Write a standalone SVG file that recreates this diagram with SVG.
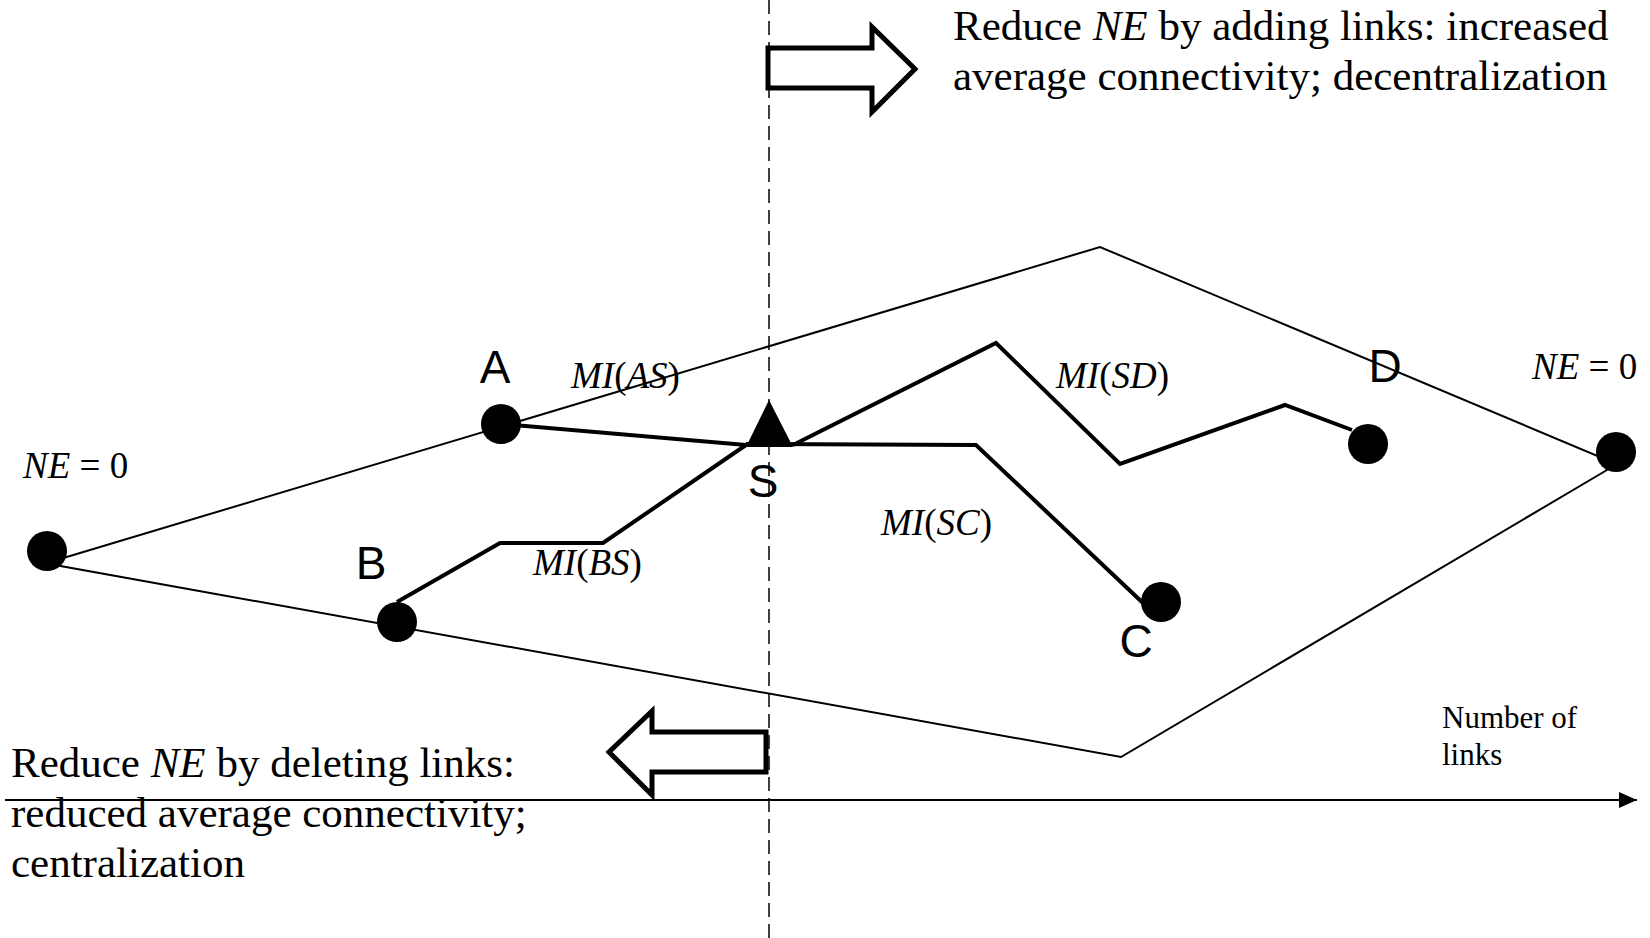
<svg xmlns="http://www.w3.org/2000/svg" width="1650" height="938" viewBox="0 0 1650 938">
<style>
.thin{fill:none;stroke:#000;stroke-width:2}
.thick{fill:none;stroke:#000;stroke-width:4;stroke-linejoin:miter}
.blk{fill:none;stroke:#000;stroke-width:5;stroke-linejoin:miter}
.node{fill:#000}
.lbl{font-family:"Liberation Sans",Arial,sans-serif;font-size:46px;text-anchor:middle;fill:#000}
.mi{font-family:"Liberation Serif","Times New Roman",serif;font-size:37px;fill:#000}
.txt{font-family:"Liberation Serif","Times New Roman",serif;font-size:43px;fill:#000}
.small{font-family:"Liberation Serif","Times New Roman",serif;font-size:31px;fill:#000}
.it{font-style:italic}
</style>
<defs>
<marker id="ah" markerWidth="18" markerHeight="16" refX="18" refY="8" orient="auto" markerUnits="userSpaceOnUse">
<path d="M0,0 L18,8 L0,16 Z" fill="#000"/>
</marker>
</defs>
<rect width="1650" height="938" fill="#fff"/>
<g id="axis">
<line x1="5" y1="800" x2="1637" y2="800" stroke="#000" stroke-width="2" marker-end="url(#ah)"/>
<text class="small" x="1442" y="728">Number of</text>
<text class="small" x="1442" y="765">links</text>
</g>
<g id="divider">
<line x1="769" y1="0" x2="769" y2="938" stroke="#000" stroke-width="1.5" stroke-dasharray="14 7"/>
</g>
<g id="connectors">
<polygon class="thin" points="60,559 1100,247 1600,457 1607,470 1121,757 55,565"/>
<polyline class="thick" points="501,424 746,445"/>
<polyline class="thick" points="397,602 500,543 603,543 746,445"/>
<polyline class="thick" points="746,444 976,445 1143,603"/>
<polyline class="thick" points="793,445 996,343 1120,464 1285,405 1352,430"/>
</g>
<g id="arrow-right">
<polygon class="blk" points="768,48 872,48 872,27 915,69 872,112 872,88 768,88"/>
</g>
<g id="arrow-left">
<polygon class="blk" points="609,752 652,711 652,732 766,732 766,772 652,772 652,795"/>
</g>
<g id="node-left"><circle class="node" cx="47" cy="551" r="20"/></g>
<g id="node-A"><circle class="node" cx="501" cy="424" r="20"/><text class="lbl" x="495" y="383">A</text></g>
<g id="node-B"><circle class="node" cx="397" cy="622" r="20"/><text class="lbl" x="371" y="579">B</text></g>
<g id="node-C"><circle class="node" cx="1161" cy="602" r="20"/><text class="lbl" x="1136" y="657">C</text></g>
<g id="node-D"><circle class="node" cx="1368" cy="444" r="20"/><text class="lbl" x="1385" y="382">D</text></g>
<g id="node-right"><circle class="node" cx="1616" cy="452" r="20"/></g>
<g id="node-S"><polygon class="node" points="769,400 746,447 793,447"/><text class="lbl" x="763" y="497">S</text></g>
<g id="labels">
<text class="mi" x="571" y="388"><tspan class="it">MI</tspan>(<tspan class="it">AS</tspan>)</text>
<text class="mi" x="533" y="575"><tspan class="it">MI</tspan>(<tspan class="it">BS</tspan>)</text>
<text class="mi" x="881" y="535"><tspan class="it">MI</tspan>(<tspan class="it">SC</tspan>)</text>
<text class="mi" x="1056" y="388"><tspan class="it">MI</tspan>(<tspan class="it">SD</tspan>)</text>
<text class="mi" x="23" y="478"><tspan class="it">NE</tspan> = 0</text>
<text class="mi" x="1532" y="379"><tspan class="it">NE</tspan> = 0</text>
</g>
<g id="text-top">
<text class="txt" x="953" y="40">Reduce <tspan class="it">NE</tspan> by adding links: increased</text>
<text class="txt" x="953" y="90">average connectivity; decentralization</text>
</g>
<g id="text-bottom">
<text class="txt" x="11" y="777">Reduce <tspan class="it">NE</tspan> by deleting links:</text>
<text class="txt" x="11" y="827">reduced average connectivity;</text>
<text class="txt" x="11" y="877">centralization</text>
</g>
</svg>
